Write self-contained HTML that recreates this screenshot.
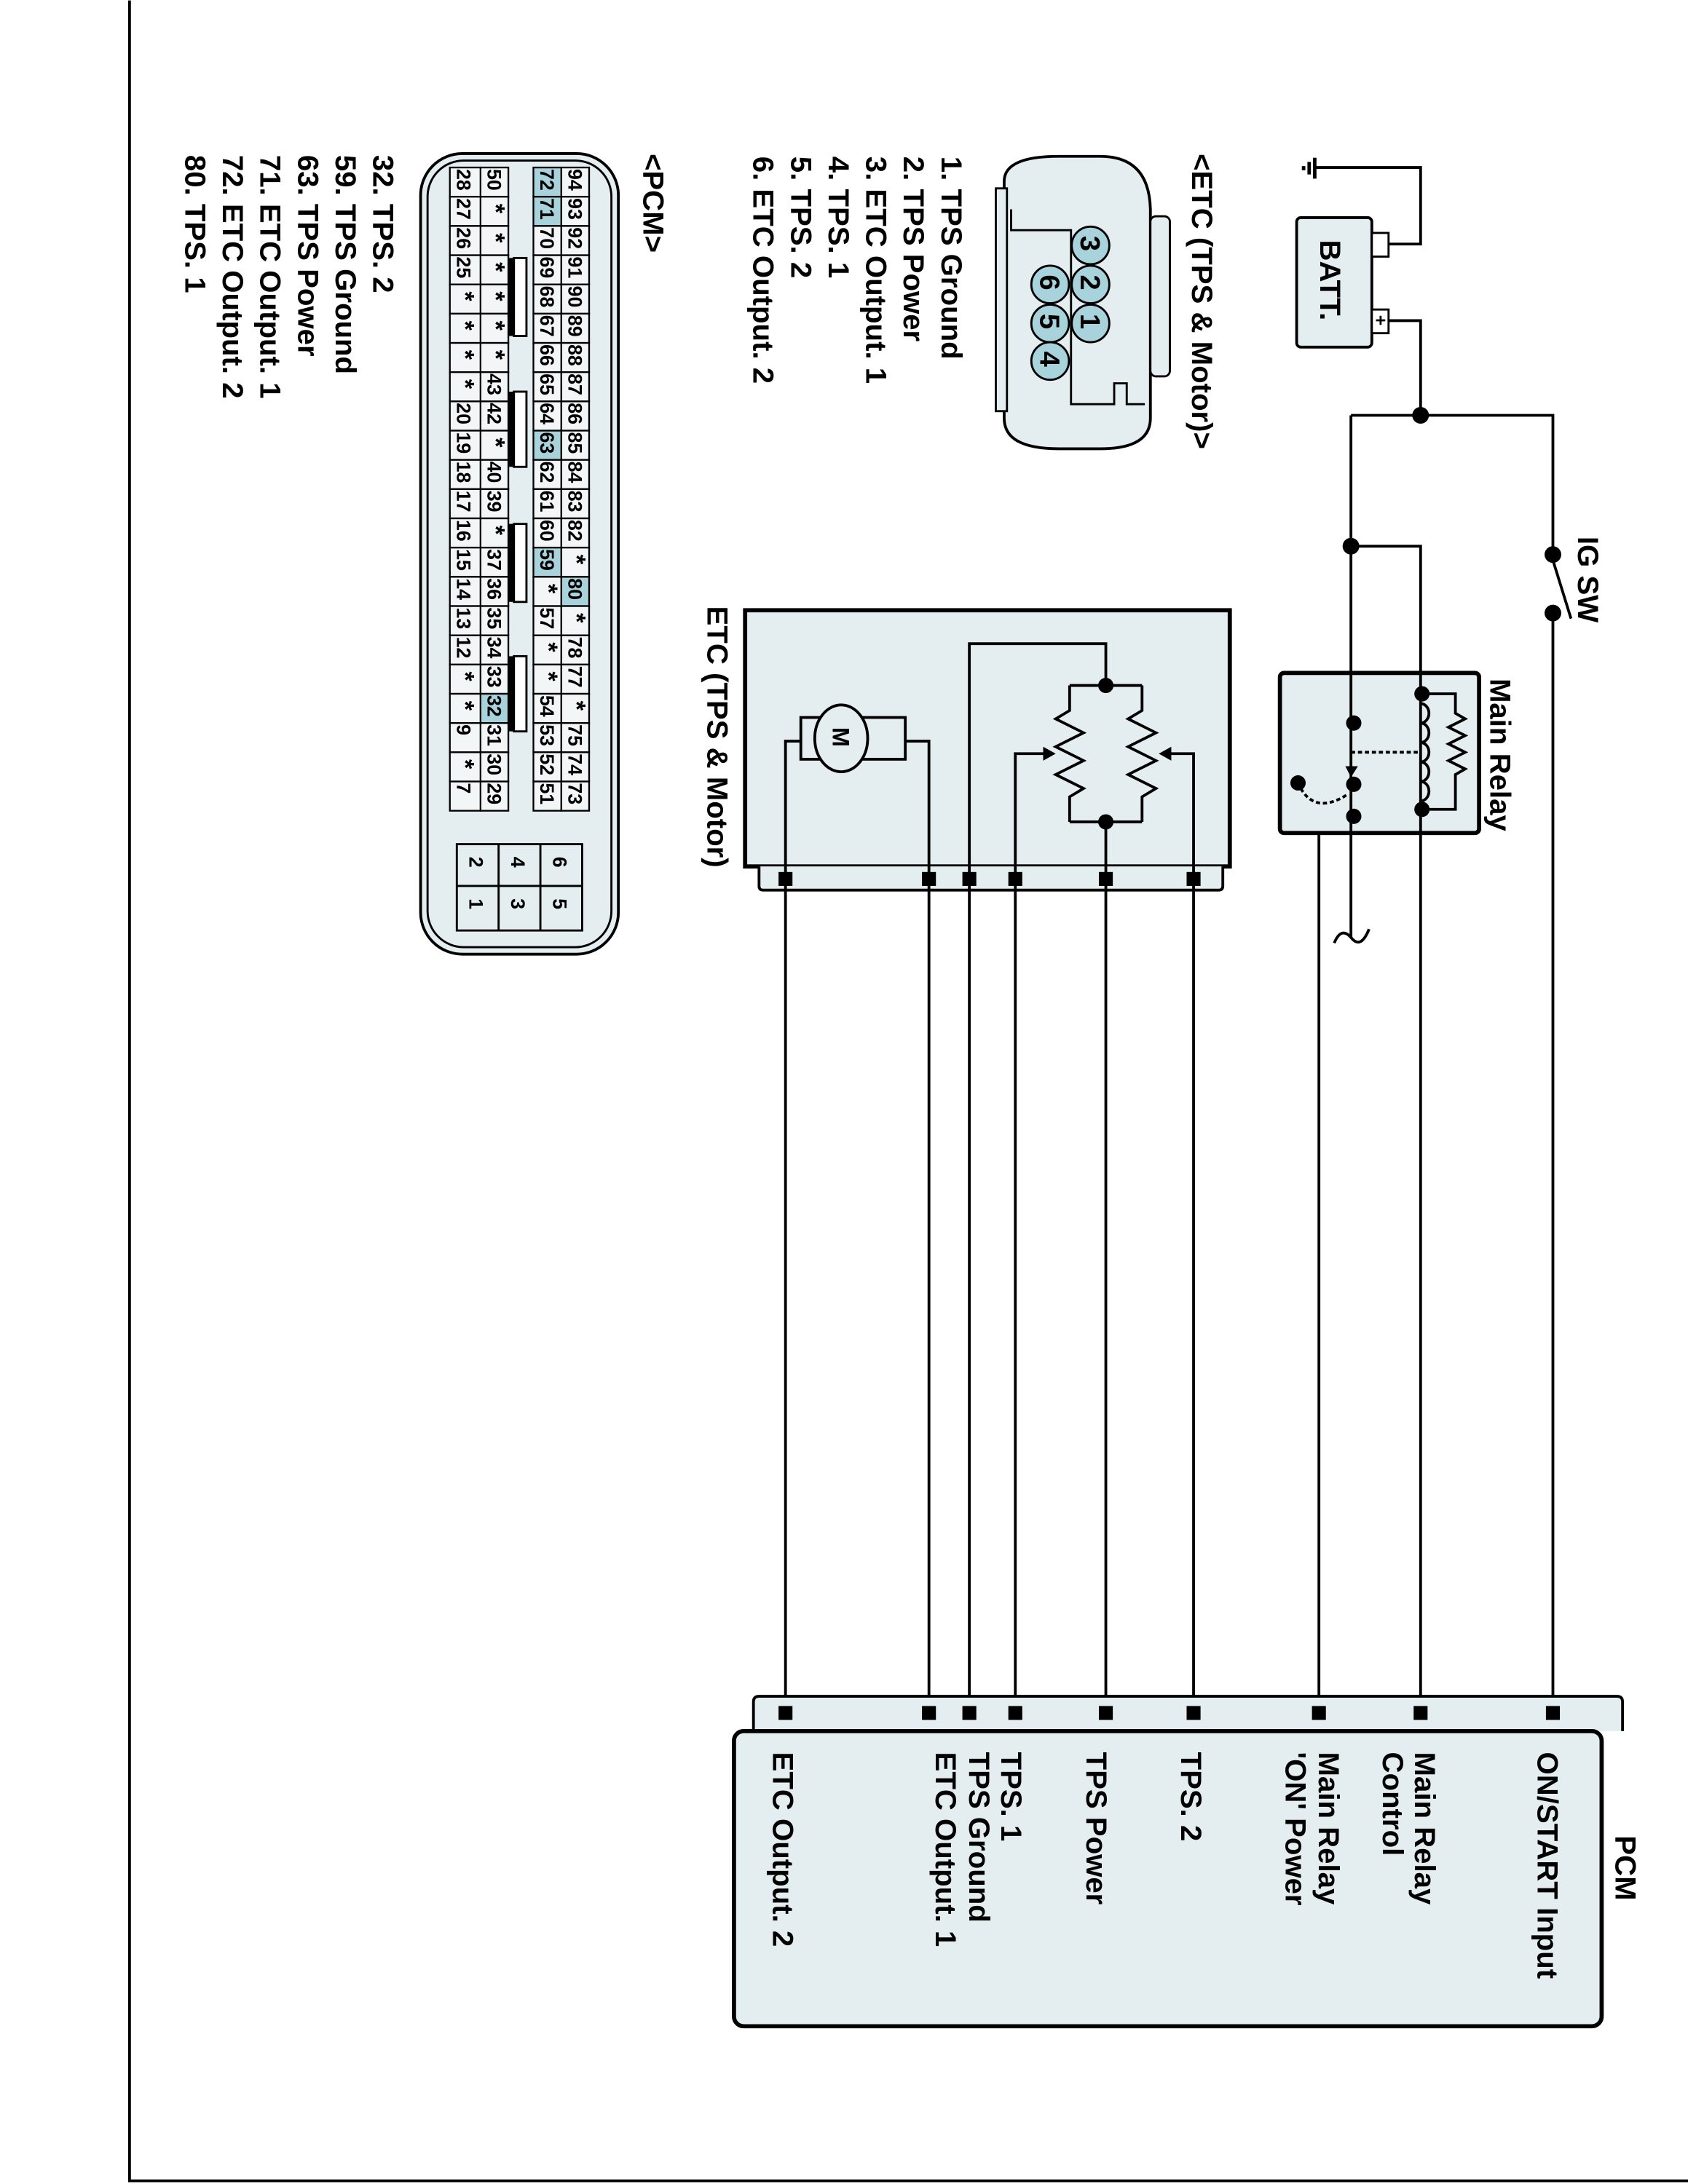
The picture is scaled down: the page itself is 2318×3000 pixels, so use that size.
<!DOCTYPE html>
<html><head><meta charset="utf-8"><style>
html,body{margin:0;padding:0;background:#fff}
svg{display:block}
text{font-family:"Liberation Sans",Arial,sans-serif;font-weight:bold;fill:#000}
</style></head><body>
<svg width="2318" height="3000" viewBox="0 0 1212 1568" xmlns="http://www.w3.org/2000/svg">
<rect x="0" y="0" width="1212" height="1568" fill="#fff"/>
<path d="M93 0 V1566 H1212" fill="none" stroke="#000" stroke-width="2"/>

<g fill="none" stroke="#000" stroke-width="2">
<path d="M945 120 H1020 V175 H985"/>
<path d="M985 230 H1020 V298"/>
<path d="M970 298 H1115 V400"/>
<path d="M970 298 V673"/>
<path d="M970 392 H1020 V498"/>
<path d="M1115 440 V1230"/>
<path d="M1020 581 V1230"/>
<path d="M972 586 H947 V1230"/>
<path d="M958 677 Q963 665 970 673 Q977 682 983 667"/>
<path d="M1115 402 L1128 444"/>
</g>
<g stroke="#000" stroke-width="2.5">
<line x1="944" y1="113" x2="944" y2="128"/>
<line x1="940" y1="116" x2="940" y2="125"/>
<line x1="936" y1="119" x2="936" y2="122"/>
</g>
<rect x="931" y="156" width="54" height="93" rx="3" fill="#e4edf0" stroke="#000" stroke-width="2"/>
<rect x="985" y="167" width="12" height="17" fill="#fff" stroke="#000" stroke-width="1.5"/>
<rect x="985" y="222" width="12" height="17" fill="#fff" stroke="#000" stroke-width="1.5"/>
<text transform="translate(994,172) rotate(90)" font-size="11">-</text>
<text transform="translate(987,226) rotate(90)" font-size="13">+</text>
<text transform="translate(948,172) rotate(90)" font-size="21">BATT.</text>
<g fill="#000">
<circle cx="1020" cy="298" r="6"/>
<circle cx="970" cy="392" r="6"/>
<circle cx="1115" cy="398" r="6"/>
<circle cx="1115" cy="440" r="6"/>
</g>
<text transform="translate(1133,385) rotate(90)" font-size="21">IG SW</text>

<rect x="919" y="483" width="143" height="115" rx="3" fill="#e4edf0" stroke="#000" stroke-width="3"/>
<g fill="none" stroke="#000" stroke-width="2">
<line x1="970" y1="483" x2="970" y2="598"/>
<line x1="1020" y1="483" x2="1020" y2="598"/>
<path d="M1020 498 H1045 V512 L1052 516 L1040 522 L1052 528 L1040 534 L1052 540 L1040 546 L1052 552 L1045 556 V581 H1020"/>
<path d="M1020 505 a6 7 0 0 1 0 14 a6 7 0 0 1 0 14 a6 7 0 0 1 0 14 a6 7 0 0 1 0 14 a6 7 0 0 1 0 14"/>
<path d="M970 540 H1020" stroke-dasharray="3 2"/>
<path d="M934 566 Q945 585 968 570" stroke-dasharray="3 2"/>
</g>
<g fill="#000">
<circle cx="1021" cy="498" r="5.5"/><circle cx="1021" cy="581" r="5.5"/>
<circle cx="972" cy="519" r="5.5"/><circle cx="972" cy="563" r="5.5"/>
<circle cx="972" cy="586" r="5.5"/><circle cx="932" cy="562" r="5.5"/>
<path d="M966 550 L975 550 L970 558 Z"/>
</g>
<text transform="translate(1070,487) rotate(90)" font-size="21">Main Relay</text>

<rect x="535" y="438" width="348" height="184" fill="#e4edf0" stroke="#000" stroke-width="3"/>
<path d="M545 622 V636 Q545 639 548 639 H875 Q878 639 878 636 V622" fill="#e4edf0" stroke="#000" stroke-width="2"/>
<text transform="translate(508,435) rotate(90)" font-size="21">ETC (TPS &amp; Motor)</text>
<g fill="none" stroke="#000" stroke-width="2">
<path d="M564 1230 V532 H575"/>
<path d="M667 1230 V532 H650"/>
<rect x="575" y="515" width="75" height="30" fill="#e4edf0"/>
<ellipse cx="604" cy="530" rx="19" ry="24" fill="#e4edf0"/>
<path d="M696 1230 V462 H794 V492"/>
<path d="M729 1230 V541 H752"/>
<path d="M857 1230 V541 H838"/>
<path d="M794 1230 V590"/>
<path d="M768 492 H820 M768 590 H820"/>
<path d="M768 492 V510 L758 516 L778 526 L758 536 L778 546 L758 556 L778 566 L768 572 V590"/>
<path d="M820 492 V510 L810 516 L830 526 L810 536 L830 546 L810 556 L830 566 L820 572 V590"/>
</g>
<text transform="translate(598,522) rotate(90)" font-size="17" font-weight="normal">M</text>
<g fill="#000">
<circle cx="794" cy="492" r="5.5"/><circle cx="794" cy="590" r="5.5"/>
<path d="M758 541 L749 536 L749 546 Z"/>
<path d="M832 541 L841 536 L841 546 Z"/>
<rect x="559" y="626" width="10" height="10"/><rect x="662" y="626" width="10" height="10"/>
<rect x="691" y="626" width="10" height="10"/><rect x="724" y="626" width="10" height="10"/>
<rect x="789" y="626" width="10" height="10"/><rect x="852" y="626" width="10" height="10"/>
</g>

<path d="M541 1243 V1222 Q541 1218 545 1218 H1161 Q1165 1218 1165 1222 V1243" fill="#e4edf0" stroke="#000" stroke-width="2"/>
<rect x="527" y="1243" width="623" height="212" rx="7" fill="#e4edf0" stroke="#000" stroke-width="3"/>
<g fill="#000">
<rect x="559" y="1225" width="10" height="10"/><rect x="662" y="1225" width="10" height="10"/>
<rect x="691" y="1225" width="10" height="10"/><rect x="724" y="1225" width="10" height="10"/>
<rect x="789" y="1225" width="10" height="10"/><rect x="852" y="1225" width="10" height="10"/>
<rect x="942" y="1225" width="10" height="10"/><rect x="1015" y="1225" width="10" height="10"/>
<rect x="1110" y="1225" width="10" height="10"/>
</g>
<g font-size="21">
<text transform="translate(1160,1318) rotate(90)">PCM</text>
<text transform="translate(1104,1258) rotate(90)">ON/START Input</text>
<text transform="translate(1016,1258) rotate(90)">Main Relay</text>
<text transform="translate(993,1258) rotate(90)">Control</text>
<text transform="translate(947,1258) rotate(90)">Main Relay</text>
<text transform="translate(923,1258) rotate(90)">'ON' Power</text>
<text transform="translate(848,1258) rotate(90)">TPS. 2</text>
<text transform="translate(780,1258) rotate(90)">TPS Power</text>
<text transform="translate(719,1258) rotate(90)">TPS. 1</text>
<text transform="translate(696,1258) rotate(90)">TPS Ground</text>
<text transform="translate(672,1258) rotate(90)">ETC Output. 1</text>
<text transform="translate(555,1258) rotate(90)">ETC Output. 2</text>
</g>

<text transform="translate(856,110) rotate(90)" font-size="21">&lt;ETC (TPS &amp; Motor)&gt;</text>
<path d="M721 131 V130 Q721 112 760 112 H790 Q825 112 826 150 V300 Q826 322 790 322 H760 Q721 322 721 300 Z" fill="#e4edf0" stroke="#000" stroke-width="2"/>
<path d="M726 150 V165 H769 V290 H800 V275 H809 V290 H822" fill="none" stroke="#000" stroke-width="1.5"/>
<rect x="715" y="135" width="8" height="160" fill="#e4edf0" stroke="#000" stroke-width="1.5"/>
<rect x="826" y="155" width="14" height="115" rx="4" fill="#e4edf0" stroke="#000" stroke-width="1.5"/>
<g fill="#a9d3dc" stroke="#000" stroke-width="1.5">
<circle cx="783" cy="176" r="13.5"/><circle cx="783" cy="204" r="13.5"/><circle cx="783" cy="232" r="13.5"/>
<circle cx="754" cy="204" r="13.5"/><circle cx="754" cy="232" r="13.5"/><circle cx="754" cy="259" r="13.5"/>
</g>
<g font-size="20">
<text transform="translate(776,169) rotate(90)">3</text><text transform="translate(776,197) rotate(90)">2</text><text transform="translate(776,225) rotate(90)">1</text>
<text transform="translate(747,197) rotate(90)">6</text><text transform="translate(747,225) rotate(90)">5</text><text transform="translate(747,252) rotate(90)">4</text>
</g>
<g font-size="21">
<text transform="translate(676,112) rotate(90)">1. TPS Ground</text>
<text transform="translate(649,112) rotate(90)">2. TPS Power</text>
<text transform="translate(622,112) rotate(90)">3. ETC Output. 1</text>
<text transform="translate(595,112) rotate(90)">4. TPS. 1</text>
<text transform="translate(568,112) rotate(90)">5. TPS. 2</text>
<text transform="translate(541,112) rotate(90)">6. ETC Output. 2</text>
</g>

<text transform="translate(462,110) rotate(90)" font-size="21">&lt;PCM&gt;</text>
<rect x="302" y="110" width="142" height="575" rx="30" fill="#e4edf0" stroke="#000" stroke-width="2"/>
<rect x="307" y="115" width="132" height="565" rx="26" fill="none" stroke="#000" stroke-width="1.5"/>
<g id="cells" font-size="14" stroke="#000" stroke-width="1.2"></g>
<g fill="#fff" stroke="#000" stroke-width="1.5">
<rect x="369" y="185" width="9" height="56"/><rect x="369" y="281" width="9" height="54"/>
<rect x="369" y="376" width="9" height="56"/><rect x="369" y="471" width="9" height="54"/>
</g>
<g stroke="#000" stroke-width="3">
<line x1="367" y1="185" x2="367" y2="241"/><line x1="367" y1="281" x2="367" y2="335"/>
<line x1="367" y1="376" x2="367" y2="432"/><line x1="367" y1="471" x2="367" y2="525"/>
</g>
<rect x="328" y="606" width="90" height="62" fill="#e4edf0" stroke="#000" stroke-width="1.5"/>
<g stroke="#000" stroke-width="1.5">
<line x1="358" y1="606" x2="358" y2="668"/><line x1="388" y1="606" x2="388" y2="668"/><line x1="328" y1="636" x2="418" y2="636"/>
</g>
<g font-size="14">
<text transform="translate(397,615) rotate(90)">6</text><text transform="translate(397,645) rotate(90)">5</text>
<text transform="translate(367,615) rotate(90)">4</text><text transform="translate(367,645) rotate(90)">3</text>
<text transform="translate(337,615) rotate(90)">2</text><text transform="translate(337,645) rotate(90)">1</text>
</g>
<g font-size="21">
<text transform="translate(268,111) rotate(90)">32. TPS. 2</text>
<text transform="translate(241,111) rotate(90)">59. TPS Ground</text>
<text transform="translate(214,111) rotate(90)">63. TPS Power</text>
<text transform="translate(187,111) rotate(90)">71. ETC Output. 1</text>
<text transform="translate(160,111) rotate(90)">72. ETC Output. 2</text>
<text transform="translate(133,111) rotate(90)">80. TPS. 1</text>
</g>
</svg>
<script>
(function(){
var cols=[{x:403,w:20,v:["94","93","92","91","90","89","88","87","86","85","84","83","82","*","80","*","78","77","*","75","74","73"]},
{x:383,w:20,v:["72","71","70","69","68","67","66","65","64","63","62","61","60","59","*","57","*","*","54","53","52","51"]},
{x:345,w:20,v:["50","*","*","*","*","*","*","43","42","*","40","39","*","37","36","35","34","33","32","31","30","29"]},
{x:323,w:22,v:["28","27","26","25","*","*","*","*","20","19","18","17","16","15","14","13","12","*","*","9","*","7"]}];
var hl={"72":1,"71":1,"63":1,"59":1,"80":1,"32":1};
var g=document.getElementById("cells"),ns="http://www.w3.org/2000/svg",h=21;
cols.forEach(function(c){c.v.forEach(function(v,i){
var y=120+i*h;var r=document.createElementNS(ns,"rect");
r.setAttribute("x",c.x);r.setAttribute("y",y);r.setAttribute("width",c.w);r.setAttribute("height",h);
r.setAttribute("fill",hl[v]?"#a9d3dc":"#f2f6f7");g.appendChild(r);
var t=document.createElementNS(ns,"text");
t.setAttribute("transform","translate("+(c.x+5)+","+(y+(v=="*"?5:1))+") rotate(90)");
t.setAttribute("stroke","none");
if(v=="*")t.setAttribute("font-size","18");
t.textContent=v;g.appendChild(t);});});
})();
</script>
</body></html>
